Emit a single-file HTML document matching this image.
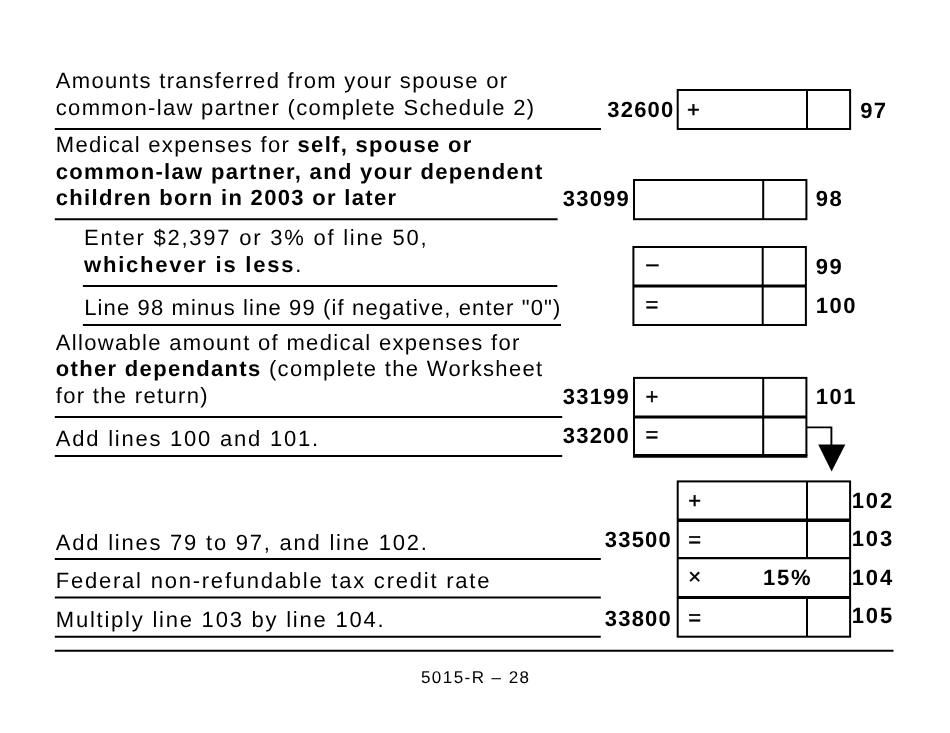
<!DOCTYPE html>
<html lang="en"><head><meta charset="utf-8"><title>5015-R</title>
<style>
html,body{margin:0;padding:0;background:#fff}
body{width:950px;height:733px;position:relative;overflow:hidden;font-family:"Liberation Sans",sans-serif;color:#000;text-rendering:geometricPrecision}
.t{position:absolute;white-space:pre;font-size:22px;line-height:22px}
.c{font-weight:bold}
.s{position:absolute;white-space:pre;font-size:22px;line-height:22px;width:40px;text-align:center;letter-spacing:0;-webkit-text-stroke:0.4px #000}
b{font-weight:bold}
svg{position:absolute;left:0;top:0}
</style></head><body>

<svg width="950" height="733" viewBox="0 0 950 733" fill="none" stroke="#000">
<line x1="54.8" y1="129.0" x2="601" y2="129.0" stroke-width="2"/>
<line x1="54.8" y1="219.15" x2="557.6" y2="219.15" stroke-width="2"/>
<line x1="82.9" y1="286.0" x2="557.3" y2="286.0" stroke-width="2"/>
<line x1="82.9" y1="325.0" x2="561" y2="325.0" stroke-width="2"/>
<line x1="54.8" y1="417.0" x2="562.2" y2="417.0" stroke-width="2"/>
<line x1="54.8" y1="456.0" x2="562.2" y2="456.0" stroke-width="2"/>
<line x1="54.8" y1="559.0" x2="600.8" y2="559.0" stroke-width="2"/>
<line x1="54.8" y1="597.5" x2="600.8" y2="597.5" stroke-width="2"/>
<line x1="54.8" y1="636.7" x2="600.8" y2="636.7" stroke-width="2"/>
<line x1="54.8" y1="650.8" x2="893.5" y2="650.8" stroke-width="2"/>
<rect x="677.7" y="90" width="172.4" height="39.0" stroke-width="2"/>
<line x1="807" y1="90" x2="807" y2="129.0" stroke-width="2"/>
<rect x="634" y="180" width="172.4" height="39.2" stroke-width="2"/>
<line x1="763.2" y1="180" x2="763.2" y2="219.15" stroke-width="2"/>
<rect x="633.4" y="247" width="172.5" height="78.0" stroke-width="2"/>
<line x1="633.4" y1="286.0" x2="805.9" y2="286.0" stroke-width="2.8"/>
<line x1="762.7" y1="247" x2="762.7" y2="286.0" stroke-width="2"/>
<line x1="762.7" y1="286.0" x2="762.7" y2="325.0" stroke-width="2"/>
<rect x="634" y="377.9" width="172.4" height="77.1" stroke-width="2"/>
<line x1="634" y1="417.0" x2="806.4" y2="417.0" stroke-width="3.0"/>
<line x1="763.2" y1="377.9" x2="763.2" y2="417.0" stroke-width="2"/>
<line x1="763.2" y1="417.0" x2="763.2" y2="455.0" stroke-width="2"/>
<line x1="633" y1="455.9" x2="807.4" y2="455.9" stroke-width="3.6"/>
<rect x="677.7" y="481.4" width="172.4" height="155.3" stroke-width="2"/>
<line x1="677.7" y1="520.3" x2="850.1" y2="520.3" stroke-width="3.4"/>
<line x1="677.7" y1="558.2" x2="850.1" y2="558.2" stroke-width="2.2"/>
<line x1="677.7" y1="597.5" x2="850.1" y2="597.5" stroke-width="3.0"/>
<line x1="807" y1="481.4" x2="807" y2="520.3" stroke-width="2"/>
<line x1="807" y1="520.3" x2="807" y2="558.2" stroke-width="2"/>
<line x1="807" y1="597.5" x2="807" y2="636.7" stroke-width="2"/>
<polyline points="806.4,427.4 831.4,427.4 831.4,446" stroke-width="1.9"/>
<polygon points="818.2,444.5 845.3,444.5 831.6,471.6" fill="#000" stroke="none"/>
</svg>
<div class="t" style="left:55.80px;top:70.00px;letter-spacing:1.320px">Amounts transferred from your spouse or</div>
<div class="t" style="left:55.80px;top:97.00px;letter-spacing:1.320px">common-law partner (complete Schedule 2)</div>
<div class="t" style="left:55.80px;top:134.00px;letter-spacing:1.320px">Medical expenses for <b>self, spouse or</b></div>
<div class="t" style="left:55.80px;top:161.00px;letter-spacing:1.320px"><b>common-law partner, and your dependent</b></div>
<div class="t" style="left:55.80px;top:187.00px;letter-spacing:1.320px"><b>children born in 2003 or later</b></div>
<div class="t" style="left:84.10px;top:227.00px;letter-spacing:1.770px">Enter $2,397 or 3% of line 50,</div>
<div class="t" style="left:84.10px;top:254.00px;letter-spacing:1.770px"><b>whichever is less</b>.</div>
<div class="t" style="left:84.20px;top:297.00px;letter-spacing:1.130px">Line 98 minus line 99 (if negative, enter "0")</div>
<div class="t" style="left:55.80px;top:332.00px;letter-spacing:1.320px">Allowable amount of medical expenses for</div>
<div class="t" style="left:55.80px;top:358.00px;letter-spacing:1.320px"><b>other dependants</b> (complete the Worksheet</div>
<div class="t" style="left:55.80px;top:385.00px;letter-spacing:1.320px">for the return)</div>
<div class="t" style="left:55.80px;top:428.00px;letter-spacing:1.770px">Add lines 100 and 101.</div>
<div class="t" style="left:55.80px;top:532.00px;letter-spacing:1.770px">Add lines 79 to 97, and line 102.</div>
<div class="t" style="left:55.80px;top:570.00px;letter-spacing:1.770px">Federal non-refundable tax credit rate</div>
<div class="t" style="left:55.80px;top:609.00px;letter-spacing:1.770px">Multiply line 103 by line 104.</div>
<div class="t c" style="left:607.30px;top:99.00px;letter-spacing:1.200px">32600</div>
<div class="t c" style="left:562.80px;top:188.00px;letter-spacing:1.200px">33099</div>
<div class="t c" style="left:562.80px;top:386.00px;letter-spacing:1.200px">33199</div>
<div class="t c" style="left:562.80px;top:425.00px;letter-spacing:1.200px">33200</div>
<div class="t c" style="left:604.80px;top:529.00px;letter-spacing:1.200px">33500</div>
<div class="t c" style="left:604.80px;top:608.00px;letter-spacing:1.200px">33800</div>
<div class="t c" style="left:860.20px;top:100.00px;letter-spacing:1.320px">97</div>
<div class="t c" style="left:815.70px;top:188.00px;letter-spacing:1.600px">98</div>
<div class="t c" style="left:815.70px;top:256.00px;letter-spacing:1.600px">99</div>
<div class="t c" style="left:815.70px;top:295.00px;letter-spacing:1.600px">100</div>
<div class="t c" style="left:815.70px;top:386.00px;letter-spacing:1.600px">101</div>
<div class="t c" style="left:851.70px;top:490.00px;letter-spacing:1.900px">102</div>
<div class="t c" style="left:851.70px;top:528.00px;letter-spacing:1.900px">103</div>
<div class="t c" style="left:851.70px;top:567.00px;letter-spacing:1.900px">104</div>
<div class="t c" style="left:851.70px;top:605.00px;letter-spacing:1.900px">105</div>
<div class="t c" style="left:763.00px;top:567.00px;letter-spacing:1.770px">15%</div>
<div class="t" style="left:420.90px;top:669.00px;letter-spacing:1.460px;font-size:17px;line-height:17px">5015-R – 28</div>
<div class="s" style="left:673.5px;top:99.00px">+</div>
<div class="s" style="left:632.3px;top:253.00px">–</div>
<div class="s" style="left:632.0px;top:294.00px">=</div>
<div class="s" style="left:632.0px;top:386.00px">+</div>
<div class="s" style="left:632.0px;top:424.00px">=</div>
<div class="s" style="left:674.8px;top:490.00px">+</div>
<div class="s" style="left:674.8px;top:529.00px">=</div>
<div class="s" style="left:674.8px;top:566.00px">×</div>
<div class="s" style="left:674.8px;top:607.00px">=</div>
</body></html>
